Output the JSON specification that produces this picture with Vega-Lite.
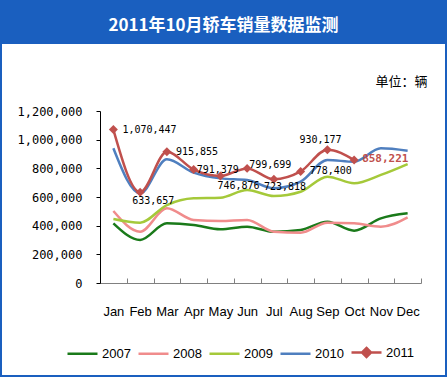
{
  "$schema": "https://vega.github.io/schema/vega-lite/v6.json",
  "width": 443,
  "height": 331,
  "autosize": {"type": "none"},
  "padding": {"left": 2, "top": 44, "right": 2, "bottom": 2},
  "background": "#1A5FBF",
  "config": {
    "view": {"fill": "white", "stroke": null},
    "text": {"font": "DejaVu Sans Mono", "fontSize": 10, "color": "black", "align": "left", "baseline": "middle"}
  },
  "title": {
    "text": "2011年10月轿车销量数据监测",
    "color": "white",
    "font": "Noto Sans CJK SC",
    "fontSize": 17,
    "fontWeight": "bold",
    "anchor": "middle",
    "baseline": "middle",
    "offset": 1
  },
  "datasets": {
    "sales": [
      {"month": "Jan", "year": "2007", "value": 416000},
      {"month": "Feb", "year": "2007", "value": 300000},
      {"month": "Mar", "year": "2007", "value": 416000},
      {"month": "Apr", "year": "2007", "value": 405000},
      {"month": "May", "year": "2007", "value": 375000},
      {"month": "Jun", "year": "2007", "value": 393000},
      {"month": "Jul", "year": "2007", "value": 358000},
      {"month": "Aug", "year": "2007", "value": 370000},
      {"month": "Sep", "year": "2007", "value": 428000},
      {"month": "Oct", "year": "2007", "value": 365000},
      {"month": "Nov", "year": "2007", "value": 451000},
      {"month": "Dec", "year": "2007", "value": 486000},
      {"month": "Jan", "year": "2008", "value": 502000},
      {"month": "Feb", "year": "2008", "value": 358000},
      {"month": "Mar", "year": "2008", "value": 521000},
      {"month": "Apr", "year": "2008", "value": 440000},
      {"month": "May", "year": "2008", "value": 433000},
      {"month": "Jun", "year": "2008", "value": 440000},
      {"month": "Jul", "year": "2008", "value": 358000},
      {"month": "Aug", "year": "2008", "value": 351000},
      {"month": "Sep", "year": "2008", "value": 421000},
      {"month": "Oct", "year": "2008", "value": 416000},
      {"month": "Nov", "year": "2008", "value": 393000},
      {"month": "Dec", "year": "2008", "value": 458000},
      {"month": "Jan", "year": "2009", "value": 447000},
      {"month": "Feb", "year": "2009", "value": 421000},
      {"month": "Mar", "year": "2009", "value": 544000},
      {"month": "Apr", "year": "2009", "value": 591000},
      {"month": "May", "year": "2009", "value": 595000},
      {"month": "Jun", "year": "2009", "value": 649000},
      {"month": "Jul", "year": "2009", "value": 607000},
      {"month": "Aug", "year": "2009", "value": 637000},
      {"month": "Sep", "year": "2009", "value": 742000},
      {"month": "Oct", "year": "2009", "value": 696000},
      {"month": "Nov", "year": "2009", "value": 754000},
      {"month": "Dec", "year": "2009", "value": 830000},
      {"month": "Jan", "year": "2010", "value": 940000},
      {"month": "Feb", "year": "2010", "value": 626000},
      {"month": "Mar", "year": "2010", "value": 863000},
      {"month": "Apr", "year": "2010", "value": 770000},
      {"month": "May", "year": "2010", "value": 730000},
      {"month": "Jun", "year": "2010", "value": 719000},
      {"month": "Jul", "year": "2010", "value": 661000},
      {"month": "Aug", "year": "2010", "value": 707000},
      {"month": "Sep", "year": "2010", "value": 858000},
      {"month": "Oct", "year": "2010", "value": 846000},
      {"month": "Nov", "year": "2010", "value": 940000},
      {"month": "Dec", "year": "2010", "value": 923000},
      {"month": "Jan", "year": "2011", "value": 1070447},
      {"month": "Feb", "year": "2011", "value": 633657},
      {"month": "Mar", "year": "2011", "value": 915855},
      {"month": "Apr", "year": "2011", "value": 791379},
      {"month": "May", "year": "2011", "value": 746876},
      {"month": "Jun", "year": "2011", "value": 799699},
      {"month": "Jul", "year": "2011", "value": 723818},
      {"month": "Aug", "year": "2011", "value": 778400},
      {"month": "Sep", "year": "2011", "value": 930177},
      {"month": "Oct", "year": "2011", "value": 858221}
    ]
  },
  "data": {"name": "sales"},
  "encoding": {
    "x": {
      "field": "month",
      "type": "nominal",
      "scale": {"domain": ["Jan","Feb","Mar","Apr","May","Jun","Jul","Aug","Sep","Oct","Nov","Dec"], "range": [98, 419], "paddingInner": 0, "paddingOuter": 0},
      "axis": {
        "orient": "bottom",
        "offset": -92,
        "title": null,
        "labelAngle": 0,
        "tickBand": "extent",
        "tickSize": -5,
        "labelPadding": 33,
        "labelBaseline": "middle",
        "labelFont": "Liberation Sans",
        "labelFontSize": 13,
        "labelColor": "black",
        "domainColor": "#808080",
        "tickColor": "#808080",
        "grid": false
      }
    },
    "y": {
      "field": "value",
      "type": "quantitative",
      "scale": {"domain": [0, 1200000], "range": [239, 67], "nice": false},
      "axis": {
        "orient": "left",
        "offset": -98,
        "values": [0, 200000, 400000, 600000, 800000, 1000000, 1200000],
        "format": ",d",
        "title": "单位：辆",
        "titleAngle": 0,
        "titleX": 275,
        "titleY": 37,
        "titleAlign": "left",
        "titleBaseline": "middle",
        "titleFont": "Noto Sans CJK SC",
        "titleFontSize": 13,
        "titleFontWeight": "normal",
        "titleColor": "black",
        "labelFont": "DejaVu Sans Mono",
        "labelFontSize": 12,
        "labelColor": "black",
        "tickSize": 4,
        "labelPadding": 14,
        "domainColor": "black",
        "tickColor": "black",
        "grid": false
      }
    }
  },
  "layer": [
    {
      "mark": {"type": "line", "interpolate": "monotone", "strokeWidth": 2.5},
      "encoding": {
        "color": {
          "field": "year",
          "type": "nominal",
          "scale": {"domain": ["2007","2008","2009","2010","2011"], "range": ["#1A7A1A","#F08C8C","#A5C93A","#4F7FBF","#C0504D"]},
          "legend": {
            "orient": "none",
            "legendX": 64,
            "legendY": 292,
            "direction": "horizontal",
            "title": null,
            "symbolType": "stroke",
            "symbolSize": 900,
            "symbolStrokeWidth": 2.5,
            "labelFont": "Liberation Sans",
            "labelFontSize": 13,
            "labelColor": "black",
            "labelOffset": 3,
            "columnPadding": 2,
            "encode": {
              "symbols": {
                "update": {
                  "shape": {"signal": "datum.value === '2011' ? 'M-1,0H1M0,-0.3L0.3,0L0,0.3L-0.3,0Z' : 'M-1,0H1'"},
                  "fill": {"signal": "datum.value === '2011' ? '#C0504D' : 'transparent'"}
                }
              }
            }
          }
        }
      }
    },
    {
      "transform": [{"filter": "datum.year === '2011'"}],
      "mark": {"type": "point", "shape": "diamond", "filled": true, "size": 80, "color": "#C0504D", "opacity": 1},
      "encoding": {}
    },
    {
      "transform": [{"filter": "datum.year === '2011' && (datum.month === 'Jan' || datum.month === 'Mar' || datum.month === 'Aug')"}],
      "mark": {"type": "text", "dx": 9, "dy": 0},
      "encoding": {"text": {"field": "value", "type": "quantitative", "format": ",d"}}
    },
    {
      "transform": [{"filter": "datum.year === '2011' && datum.month === 'Apr'"}],
      "mark": {"type": "text", "dx": 3, "dy": 0},
      "encoding": {"text": {"field": "value", "type": "quantitative", "format": ",d"}}
    },
    {
      "transform": [{"filter": "datum.year === '2011' && datum.month === 'Jun'"}],
      "mark": {"type": "text", "dx": 2, "dy": -3},
      "encoding": {"text": {"field": "value", "type": "quantitative", "format": ",d"}}
    },
    {
      "transform": [{"filter": "datum.year === '2011' && datum.month === 'Feb'"}],
      "mark": {"type": "text", "dx": -8, "dy": 9},
      "encoding": {"text": {"field": "value", "type": "quantitative", "format": ",d"}}
    },
    {
      "transform": [{"filter": "datum.year === '2011' && datum.month === 'May'"}],
      "mark": {"type": "text", "dx": -3, "dy": 10},
      "encoding": {"text": {"field": "value", "type": "quantitative", "format": ",d"}}
    },
    {
      "transform": [{"filter": "datum.year === '2011' && datum.month === 'Jul'"}],
      "mark": {"type": "text", "dx": -10, "dy": 8},
      "encoding": {"text": {"field": "value", "type": "quantitative", "format": ",d"}}
    },
    {
      "transform": [{"filter": "datum.year === '2011' && datum.month === 'Sep'"}],
      "mark": {"type": "text", "dx": -28, "dy": -10},
      "encoding": {"text": {"field": "value", "type": "quantitative", "format": ",d"}}
    },
    {
      "transform": [{"filter": "datum.year === '2011' && datum.month === 'Oct'"}],
      "mark": {"type": "text", "dx": 8, "dy": -1, "color": "#C0504D", "fontWeight": "bold", "fontSize": 11},
      "encoding": {"text": {"field": "value", "type": "quantitative", "format": ",d"}}
    }
  ]
}
